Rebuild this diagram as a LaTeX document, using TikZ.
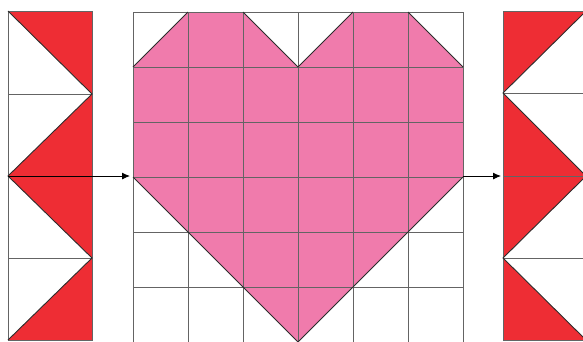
\documentclass[tikz,border=0pt]{standalone}
\usepackage{tikz}
\usetikzlibrary{arrows.meta,positioning,calc}
\definecolor{quiltred}{RGB}{238, 45, 52}
\definecolor{heartpink}{RGB}{240, 123, 172}
\definecolor{seamgray}{RGB}{100, 100, 100}
\definecolor{darkseam}{RGB}{45, 45, 45}

\begin{document}
\begin{tikzpicture}[x=1pt,y=-1pt,line width=0.9pt]
    \useasboundingbox[fill=white] (0,0) rectangle (583,341);
    \clip (0,0) rectangle (583,341);

    % Left strip of half-square triangles
    \fill[quiltred] (92,11) -- (8,11) -- (92,94) -- (8,176) -- (92,258) -- (8,340) -- (92,340) -- cycle;
    \foreach \y in {94,176,258} \draw[seamgray] (8,\y) -- (92,\y);
    \draw[seamgray] (8,11) rectangle (92,340);
    \draw[darkseam] (8,11) -- (92,94) -- (8,176) -- (92,258) -- (8,340);

    % Heart on the 6 x 6 grid
    \fill[heartpink] (133,67) -- (188,12) -- (243,12) -- (298,67) -- (353,12) -- (408,12) -- (463,67) -- (463,177) -- (298,342) -- (133,177) -- cycle;
    \foreach \x in {133,188,...,463} \draw[seamgray] (\x,12) -- (\x,342);
    \foreach \y in {12,67,...,342} \draw[seamgray] (133,\y) -- (463,\y);
    \draw[darkseam] (133,67) -- (188,12) (243,12) -- (298,67) -- (353,12) (408,12) -- (463,67);
    \draw[darkseam] (133,177) -- (298,342) -- (463,177);

    % Right strip of half-square triangles
    \fill[quiltred] (503,11) -- (586,11) -- (503,93) -- (586,176) -- (503,258) -- (586,340) -- (503,340) -- cycle;
    \foreach \y in {93,176,258} \draw[seamgray] (503,\y) -- (586,\y);
    \draw[seamgray] (503,11) rectangle (586,340);
    \draw[darkseam] (586,11) -- (503,93) -- (586,176) -- (503,258) -- (586,340);

    % Arrows between the pieces
    \coordinate (leftstrip) at (8,176);
    \coordinate (gridwest) at (130,176);
    \coordinate (grideast) at (463,176);
    \coordinate (rightstrip) at (501,176);
    \draw[-{Latex[length=8pt,width=7pt]},black] (leftstrip) -- (gridwest);
    \draw[-{Latex[length=8pt,width=7pt]},black] (grideast) -- (rightstrip);
\end{tikzpicture}
\end{document}
